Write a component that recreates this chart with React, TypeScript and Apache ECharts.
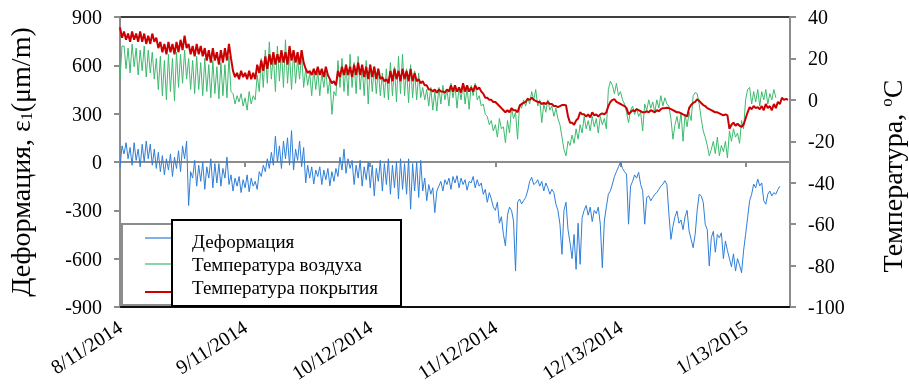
import React, { useEffect, useRef } from "react";
import * as echarts from "echarts";

// Half-day samples (index * 0.5 = days since 8/11/2014)
const STEP_DAYS = 0.5;
const START_DATE = Date.UTC(2014, 7, 11);
const TICK_DAYS = 31;
const X_MAX_DAYS = 166;

const seriesNames = ["Деформация", "Температура воздуха", "Температура покрытия"];
const leftTitle = "Деформация, ε{sub|1}(μm/m)";
const rightTitle = "Температура, {sup|o}C";

// Температура покрытия (°C)
const coatingTemp = [
  35,30, 33,29, 32,28, 33,29, 32,28, 33,28, 32,27, 31,27, 32,28, 30,25,
  28,23, 27,22, 28,23, 27,22, 28,23, 29,24, 31,25, 27,22, 26,21, 27,22,
  26,21, 25,19, 24,18, 25,19, 23,17, 24,18, 25,19, 27,20, 14,11, 13,10,
  14,11, 13,10, 14,10, 13,10, 17,13, 19,14, 21,15, 22,17, 23,17, 22,18,
  24,18, 23,17, 26,19, 24,18, 23,17, 24,18, 15,13, 14,12, 15,12, 16,12,
  15,11, 16,12, 10,8, 9,7, 14,11, 16,12, 17,12, 16,11, 17,12, 18,12,
  17,11, 16,10, 17,11, 16,10, 15,10, 11,9, 10,8, 14,9, 15,10, 14,9,
  15,10, 14,9, 15,9, 13,9, 10,8, 9,7, 7,5, 5,4, 5,3.5, 5,4,
  4,3.5, 5,4, 7,4, 7,4, 6,3.5, 8,4, 7,4, 6,4, 7,5, 6,4,
  3,1, 1,0, 0,-1, -1,-2, -3,-4, -5,-6, -5,-6, -4,-5, -5,-6, -3,-2,
  -1.5,-1, 0.5,0, 1,0, -0.5,-1, -1,-2, -1.5,-2, -1,-2, -2,-3, -3,-3.5, -3,-2.5,
  -2.5,-2.6, -8,-11, -11,-12, -10,-9, -6,-7, -7,-8, -7,-8.5, -6,-7.5, -7,-8, -7,-6.5,
  -7,-6, -3,-1, 0,0.3, -1,-1.5, -2,-2.5, -3,-4, -7,-6, -5,-5.5, -4.5,-5, -5.5,-6,
  -6,-5.5, -6,-5, -5.5,-6, -5,-5.5, -4.5,-4, -4,-3.8, -4,-4.5, -5,-5.5, -6,-6, -6.5,-7,
  -7.5,-8, -4,-2.5, -1.5,-1, 0.3,-0.5, -1.5,-2.5, -3,-4, -4.5,-5, -5.5,-6, -6,-6.5, -7,-7.5,
  -7,-7.5, -14,-12, -11,-12.5, -11.5,-12.5, -13,-12, -9,-6, -3.5,-4.5, -3,-4, -3.5,-4.5, -3,-5,
  -2,-4, -3,-5, -2,-4, -1,-2, 1,0, 0.5,0,
];

// Температура воздуха (°C)
const airTemp = [
  10,26, 26,15, 25,13, 27,16, 25,12, 24,14, 26,11, 24,13, 23,10, 20,5,
  21,2, 19,0, 22,4, 20,-0.5, 23,6, 22,8, 24,10, 20,5, 19,3, 21,5,
  18,2, 20,4, 17,1, 19,3, 16,0.5, 18,2, 17,1, 21,4, 3,-2, 2,-1,
  3,-3, 1,-5, 4,-2, 2,0, 12,4, 20,6, 24,8, 28,10, 22,4, 26,9,
  24,6, 29,8, 22,5, 24,8, 20,10, 22,6, 15,7, 13,2, 15,5, 14,2,
  13,6, 14,3, 10,-7, 4,2, 19,6, 20,4, 17,2, 22,6, 18,3, 21,5,
  16,2, 19,-2, 17,4, 16,3, 15,2, 13,1, 15,0, 18,2, 16,-1, 21,3,
  22,2, 15,-1.4, 17,1, 14,0, 13,1, 6,0, 5,-3, 6,-5, 4,-5.4, 6,-2,
  7,0, 5,-3, 8,1, 7,-4, 6,0, 8,-2, 6,-4.6, 7,2, 8,0, 2,-3,
  -2,-7, -8,-12, -10,-15, -12,-18, -9,-14, -13,-20.7, -10,-16, -3.8,-9, -6,-19, -2,-4,
  0,-3, 1,-2, 4,0, 5,-3, 0,-11, -2,-6, 0,-5, -3,-8, -4,-9, -12,-18,
  -24,-27, -20,-22, -17,-21, -14,-19, -12,-16, -8,-14, -10,-15, -8,-13, -9,-16, -8,-12,
  -9,-14, 5,9, 7,3, 8,2, 4,0, -2,-6, -11,-5, -3,-7, -4,-8, -6,-15,
  -2,-5, 0,-4, -1,-6, 0,-4, 2,-3, 1,-2, -3,-9, -19,-12, -8,-14, -6,-20,
  -7,-13, -6,-10, 2,3.5, 3,-2, -9,-15, -18,-22, -27,-24, -20,-26, -18,-27, -22,-25,
  -20,-28, -15,-20, -14,-18, -16,-21, -10,-14, 0,5, 6,-2, 4,-1, 5,-3, 4,0,
  5,-2, 3,0, 5,1,
];

// Деформация (µm/m)
const deformation = [
  -30,100, 50,120, 20,90, -20,120, 10,80, -30,110, 0,130, 20,110, -20,80, -40,60,
  -60,40, -80,20, -50,50, -90,30, -40,70, -60,100, 20,130, -270,-60, -100,10, -150,-20,
  -120,0, -170,-30, -100,20, -160,-10, -130,-10, -150,-40, -100,30, -140,-80, -180,-100, -150,-90,
  -190,-110, -160,-80, -185,-100, -150,-120, -170,-60, -90,-20, -60,20, -40,60, -20,160, 0,100,
  -40,130, 20,150, -20,195, -50,80, 10,130, -30,90, -130,-20, -100,-30, -137,-50, -90,-30,
  -140,-50, -110,-40, -148,-60, -120,-40, -90,30, -50,80, -70,20, -40,10, -140,-20, -100,10,
  -150,-30, -110,0, -160,-20, -210,-40, -120,10, -180,-10, -140,20, -200,-20, -160,0, -230,20,
  -170,-10, -200,20, -293,-10, -180,0, -220,10, -180,-100, -240,-140, -200,-160, -314,-180, -150,-120,
  -180,-110, -140,-100, -170,-90, -130,-85, -160,-100, -140,-110, -175,-120, -130,-90, -160,-110, -150,-130,
  -200,-170, -250,-190, -230,-280, -300,-250, -380,-340, -450,-521, -330,-280, -300,-366, -677,-250, -230,-260,
  -240,-220, -180,-120, -95,-140, -130,-110, -150,-120, -180,-130, -160,-200, -170,-190, -262,-300, -386,-573,
  -300,-250, -420,-500, -600,-450, -666,-380, -635,-345, -300,-270, -330,-280, -370,-300, -320,-280, -386,-656,
  -366,-280, -200,-179, -137,-90, -60,-30, 0,-40, -60,-75, -386,-150, -120,-80, -100,-64, -140,-179,
  -386,-220, -210,-241, -220,-200, -190,-170, -150,-137, -116,-140, -324,-480, -400,-340, -304,-380, -360,-420,
  -340,-300, -428,-480, -532,-450, -300,-200, -210,-250, -387,-420, -645,-470, -430,-560, -450,-470, -440,-600,
  -490,-550, -600,-650, -570,-677, -600,-640, -687,-550, -450,-345, -241,-200, -137,-160, -106,-148, -130,-241,
  -262,-200, -180,-210, -190,-200, -170,-150,
];

const COLORS = { blue: "#2f7ed8", green: "#3dba6e", red: "#cc0000" };
const FONT = "Liberation Serif";

const toPairs = (arr: number[]) => arr.map((v, i) => [i * STEP_DAYS, v]);

const fmtDate = (v: number) => {
  if (Math.abs(v % TICK_DAYS) > 1e-6) return "";
  const d = new Date(START_DATE + v * 86400000);
  return `${d.getUTCMonth() + 1}/${d.getUTCDate()}/${d.getUTCFullYear()}`;
};

export default function App() {
  const ref = useRef<HTMLDivElement>(null);
  useEffect(() => {
    if (!ref.current) return;
    const chart = echarts.init(ref.current, undefined, { renderer: "svg" });
    const grey = "#8c8c8c";
    const tickLabel = { fontFamily: FONT, fontSize: 20, color: "#000" };
    chart.setOption({
      animation: false,
      grid: { left: 120, right: 119, top: 17, bottom: 77, show: true, borderColor: "#000", borderWidth: 1.5,
        outerBoundsMode: "none", containLabel: false },
      xAxis: [
        {
          type: "value", min: 0, max: X_MAX_DAYS, interval: TICK_DAYS, position: "bottom",
          axisLine: { onZero: false, lineStyle: { color: "#000", width: 1.5 } },
          axisTick: { show: false }, splitLine: { show: false },
          axisLabel: { fontFamily: FONT, fontSize: 20, lineHeight: 20, color: "#000", rotate: 33, margin: 18, formatter: fmtDate, showMaxLabel: false },
        },
        {
          type: "value", min: 0, max: X_MAX_DAYS, interval: TICK_DAYS, position: "bottom",
          axisLine: { onZero: true, onZeroAxisIndex: 0, lineStyle: { color: grey, width: 2 } },
          axisTick: { show: true, length: 5, lineStyle: { color: grey, width: 2 } },
          axisLabel: { show: false }, splitLine: { show: false },
        },
      ],
      yAxis: [
        {
          type: "value", min: -900, max: 900, interval: 300, position: "left",
          axisLine: { show: true, onZero: false, lineStyle: { color: grey, width: 2 } },
          axisTick: { show: true, length: 6, lineStyle: { color: grey, width: 2 } },
          splitLine: { show: false },
          axisLabel: { ...tickLabel, margin: 18 },
          name: leftTitle, nameLocation: "middle", nameRotate: 90, nameGap: 86,
          nameTextStyle: { fontFamily: FONT, fontSize: 28, color: "#000",
            rich: { sub: { fontFamily: FONT, fontSize: 16, color: "#000", verticalAlign: "bottom", padding: [10, 0, 0, 0] } } },
        },
        {
          type: "value", min: -100, max: 40, interval: 20, position: "right",
          axisLine: { show: true, onZero: false, lineStyle: { color: grey, width: 2 } },
          axisTick: { show: true, length: 6, lineStyle: { color: grey, width: 2 } },
          splitLine: { show: false },
          axisLabel: { ...tickLabel, margin: 18 },
        },
      ],
      series: [
        { name: seriesNames[0], type: "line", xAxisIndex: 0, yAxisIndex: 0, data: toPairs(deformation), showSymbol: false, z: 2,
          lineStyle: { color: COLORS.blue, width: 1 }, itemStyle: { color: COLORS.blue } },
        { name: seriesNames[1], type: "line", xAxisIndex: 0, yAxisIndex: 1, data: toPairs(airTemp), showSymbol: false, z: 3,
          lineStyle: { color: COLORS.green, width: 1 }, itemStyle: { color: COLORS.green } },
        { name: seriesNames[2], type: "line", xAxisIndex: 0, yAxisIndex: 1, data: toPairs(coatingTemp), showSymbol: false, z: 4,
          lineStyle: { color: COLORS.red, width: 2 }, itemStyle: { color: COLORS.red } },
      ],
      graphic: [
        { type: "text", z: 100, x: 892, y: 176, rotation: Math.PI / 2,
          style: { text: rightTitle, font: `28px "${FONT}"`, fill: "#000", align: "center", verticalAlign: "middle", lineHeight: 28,
            rich: { sup: { fontFamily: FONT, fontSize: 17, fill: "#000", verticalAlign: "top", padding: [0, 0, 8, 0] } } } },
        { type: "rect", z: 100, shape: { x: 122, y: 224, width: 260, height: 81 }, style: { fill: "#fff", stroke: grey, lineWidth: 2 } },
        { type: "line", z: 101, shape: { x1: 145, y1: 238, x2: 172, y2: 238 }, style: { stroke: COLORS.blue, lineWidth: 1.2 } },
        { type: "line", z: 101, shape: { x1: 145, y1: 264, x2: 172, y2: 264 }, style: { stroke: COLORS.green, lineWidth: 1.2 } },
        { type: "line", z: 101, shape: { x1: 145, y1: 292, x2: 172, y2: 292 }, style: { stroke: COLORS.red, lineWidth: 2 } },
        { type: "rect", z: 102, shape: { x: 172, y: 220, width: 229, height: 86 }, style: { fill: "#fff", stroke: "#000", lineWidth: 2 } },
        { type: "text", z: 103, x: 192, y: 241, style: { text: seriesNames[0], font: `19px "${FONT}"`, fill: "#000", verticalAlign: "middle" } },
        { type: "text", z: 103, x: 192, y: 264, style: { text: seriesNames[1], font: `19px "${FONT}"`, fill: "#000", verticalAlign: "middle" } },
        { type: "text", z: 103, x: 192, y: 287, style: { text: seriesNames[2], font: `19px "${FONT}"`, fill: "#000", verticalAlign: "middle" } },
      ],
    });
    return () => chart.dispose();
  }, []);
  return <div ref={ref} style={{ position: "fixed", left: 0, top: 0, width: 909, height: 384 }} />;
}
